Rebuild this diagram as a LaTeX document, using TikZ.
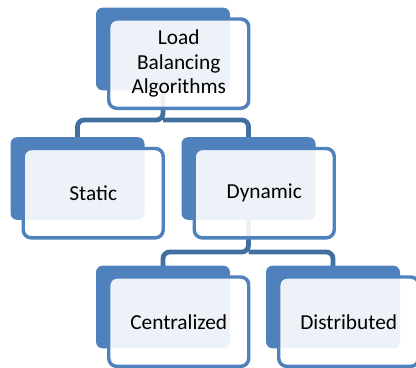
\documentclass[tikz,border=0pt]{standalone}
\usepackage{fontspec}
\setmainfont{Carlito}
\usetikzlibrary{backgrounds}

\definecolor{tileblue}{HTML}{4F81BD}
\definecolor{linkblue}{HTML}{41709F}

\tikzset{
  back/.style={fill=tileblue, rounded corners=5pt, minimum width=100.5pt, minimum height=62pt, inner sep=0pt},
  face/.style={draw=tileblue, line width=2.6pt, fill=white, fill opacity=.9, text opacity=1,
    rounded corners=6pt, minimum width=105pt, minimum height=67pt, inner sep=0pt,
    xshift=11.8pt, yshift=-11pt, align=center, font=\fontsize{16}{18.5}\selectfont},
  link/.style={draw=linkblue, line width=3.6pt, rounded corners=5pt}
}

\begin{document}
\begin{tikzpicture}[x=.75pt,y=-.75pt]
  \useasboundingbox (0,0) rectangle (416,367);

  % back tiles
  \node[back] (lba) at (163,49) {};
  \node[back] (static) at (77.5,178.5) {};
  \node[back] (dynamic) at (248.5,178.5) {};
  \node[back] (central) at (163,307) {};
  \node[back] (distrib) at (333,307) {};

  % text faces
  \node[face] (lbaT) at (lba.center) {Load\\Balancing\\Algorithms};
  \node[face] (staticT) at (static.center) {Static};
  \node[face] (dynamicT) at (dynamic.center) {Dynamic};
  \node[face] (centralT) at (central.center) {Centralized};
  \node[face] (distribT) at (distrib.center) {Distributed};

  % connectors
  \coordinate (busA) at (163,120);
  \coordinate (busB) at (248.5,252);
  \begin{scope}[on background layer]
    \draw[link] (lba.center) -- (busA) -| (static.center);
    \draw[link] (busA) -| (dynamic.center);
    \draw[link] (dynamic.center) -- (busB) -| (central.center);
    \draw[link] (busB) -| (distrib.center);
  \end{scope}
\end{tikzpicture}
\end{document}
